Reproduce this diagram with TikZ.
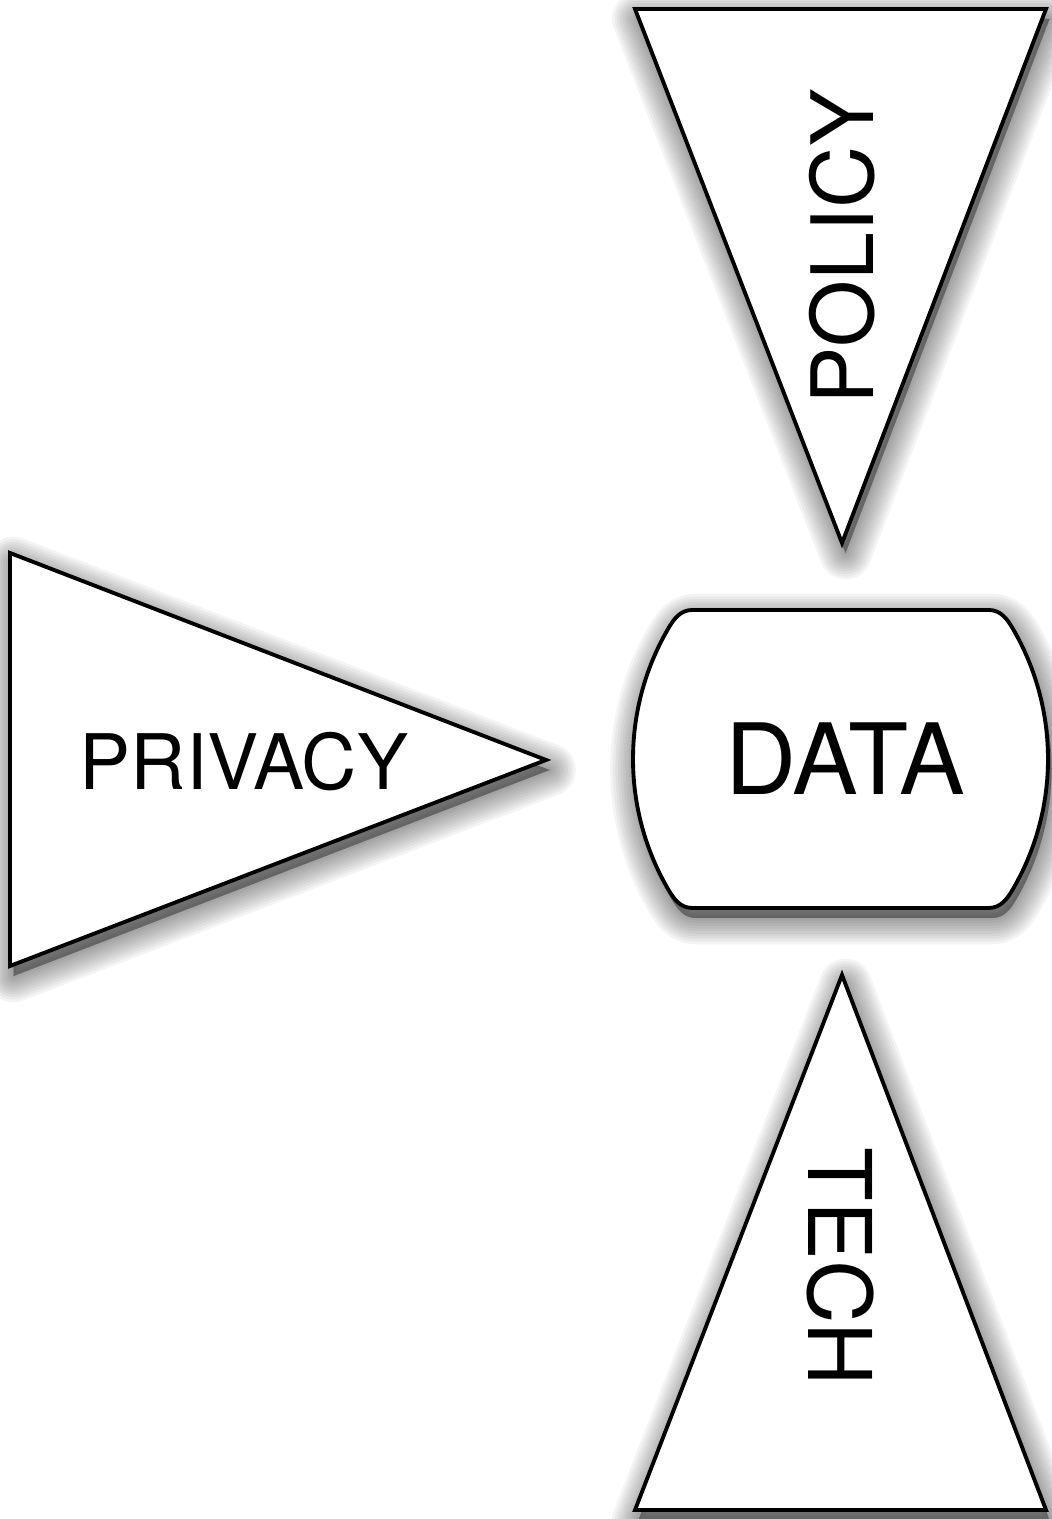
\documentclass[tikz,border=0pt]{standalone}
\usepackage{fontspec}
\setmainfont{TeX Gyre Heros}
\usetikzlibrary{positioning}

% outlines of the four shapes
\def\policyshape{(6.35,15.10) -- (10.46,15.10) -- (8.42,9.76) -- cycle}
\def\privacyshape{(0.10,9.66) -- (5.46,7.59) -- (0.10,5.53) -- cycle}
\def\techshape{(8.42,5.44) -- (10.46,0.09) -- (6.35,0.09) -- cycle}
\def\datashape{(6.925,9.09) -- (9.885,9.09) to[out=0,in=120] (10.133,8.895)
    arc[start angle=30,end angle=-30,radius=2.59] to[out=240,in=0] (9.885,6.11)
    -- (6.925,6.11) to[out=180,in=-60] (6.677,6.305)
    arc[start angle=210,end angle=150,radius=2.59] to[out=60,in=180] cycle}

\newcommand{\softshadow}[1]{%
  \foreach \w in {0,1.5,...,15}{%
    \filldraw[shadowlayer, line width=\w pt, shift={(0.035,-0.10)}] #1;
  }}

\begin{document}
\begin{tikzpicture}[
    every node/.style={inner sep=0pt, text=black},
    panel/.style={draw=black, line width=1.1pt, fill=white, line join=miter},
    shadowlayer/.style={fill=black, draw=black, opacity=0.045, line join=round},
    lbl/.style={font=\fontsize{#1}{#1}\selectfont},
]

\useasboundingbox (0,0) rectangle (10.51,15.19);

% Shadows
\softshadow{\policyshape}
\softshadow{\privacyshape}
\softshadow{\techshape}
\softshadow{\datashape}

% Shapes
\filldraw[panel] \policyshape;
\filldraw[panel] \privacyshape;
\filldraw[panel] \techshape;
\filldraw[panel] \datashape;

% Labels
\node[lbl=24.5, rotate=90] (policy) at (8.42,12.72) {POLICY};
\node[lbl=21.8] (privacy) at (2.44,7.57) {PRIVACY};
\node[lbl=28] (data) at (8.45,7.60) {DATA};
\node[lbl=25, rotate=-90] (tech) at (8.41,2.52) {TECH};

\end{tikzpicture}
\end{document}
